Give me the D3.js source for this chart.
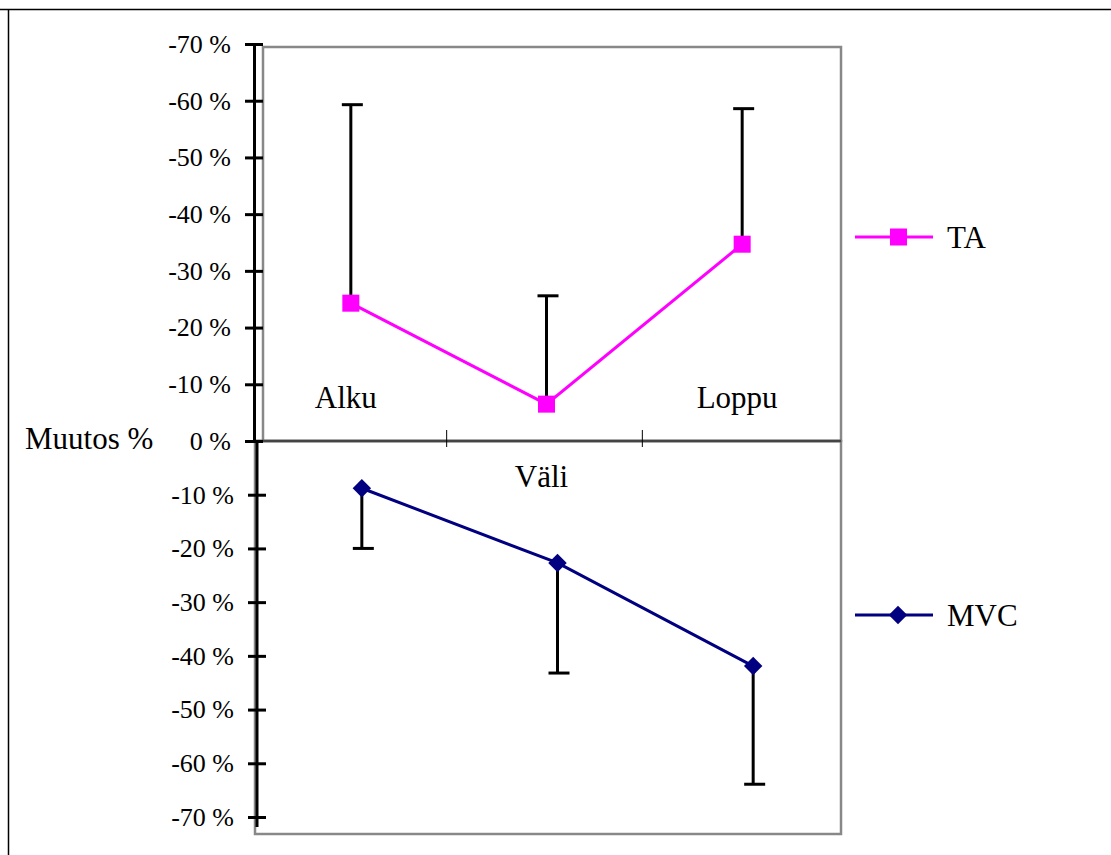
<!DOCTYPE html>
<html>
<head>
<meta charset="utf-8">
<script src="https://cdn.jsdelivr.net/npm/d3@7"></script>
<style>
  body { margin: 0; background: #fff; font-family: "Liberation Serif", "Times New Roman", serif; }
  svg text { font-family: "Liberation Serif", "Times New Roman", serif; fill: #000; }
</style>
</head>
<body>
<div id="chart"></div>
<script>
// data
var categories = ["Alku", "Väli", "Loppu"]
var taMean = [-24.3, -6.5, -34.7]
var taSd = [35.0, 19.1, 23.9]
var mvcMean = [-8.8, -22.7, -41.9]
var mvcSd = [11.2, 20.5, 22.0]
var yTicks = [0, -10, -20, -30, -40, -50, -60, -70]

var W = 1111, H = 855
var serif = "'Liberation Serif', 'Times New Roman', serif"
var svg = d3.select("#chart").append("svg").attr("width", W).attr("height", H)
  .attr("font-family", serif)

// outer frame (only top + left visible)
svg.append("line").attr("x1", 0).attr("x2", W).attr("y1", 9.5).attr("y2", 9.5).attr("stroke", "#000").attr("stroke-width", 1.5)
svg.append("line").attr("x1", 8.5).attr("x2", 8.5).attr("y1", 9).attr("y2", H).attr("stroke", "#000").attr("stroke-width", 1.5)

var left = 255, right = 841, zeroY = 441

// scales
var xTop = d3.scaleBand().domain(categories).range([253, 840])
var xBot = d3.scaleBand().domain(categories).range([264, 851])
var yTop = d3.scaleLinear().domain([0, -70]).range([zeroY, 44])
var yBot = d3.scaleLinear().domain([0, -70]).range([zeroY, 817])

// plot frames
svg.append("rect").attr("x", left + 8).attr("y", 47).attr("width", right - left - 8).attr("height", zeroY - 47)
  .attr("fill", "none").attr("stroke", "#888").attr("stroke-width", 2.5)
svg.append("rect").attr("x", left).attr("y", zeroY).attr("width", right - left).attr("height", 834 - zeroY)
  .attr("fill", "none").attr("stroke", "#888").attr("stroke-width", 2.5)
svg.append("line").attr("x1", left).attr("x2", right).attr("y1", zeroY).attr("y2", zeroY)
  .attr("stroke", "#444").attr("stroke-width", 2.5)

// category ticks on zero line
var bounds = [xTop("Väli"), xTop("Loppu")]
svg.selectAll("line.xtick").data(bounds).enter().append("line")
  .attr("x1", d => d - 2).attr("x2", d => d - 2).attr("y1", 430).attr("y2", 447)
  .attr("stroke", "#000").attr("stroke-width", 1)

// y axes
function drawAxis(scale, x) {
  var g = svg.append("g").attr("transform", "translate(" + x + ",0)")
    .call(d3.axisLeft(scale).tickValues(yTicks).tickSize(9).tickPadding(14).tickSizeOuter(0)
      .tickFormat(d => d + " %"))
  g.attr("font-family", serif).attr("font-size", 26)
  g.select(".domain").attr("stroke", "#000").attr("stroke-width", 3)
  g.selectAll(".tick line").attr("x1", 9).attr("x2", -9).attr("stroke", "#000").attr("stroke-width", 3)
  g.selectAll(".tick text").attr("fill", "#000")
  return g
}
var axTop = drawAxis(yTop, 254)
var axBot = drawAxis(yBot, 257)
axBot.selectAll(".tick").filter(d => d === 0).remove()
axBot.select(".domain").attr("d", "M0," + zeroY + "V827")

// y label
svg.append("text").attr("x", 25).attr("y", 449).attr("font-size", 31).text("Muutos %")

// category labels
var catY = [408, 487, 408]
svg.selectAll("text.cat").data(categories).enter().append("text")
  .attr("x", (d, i) => xTop(d) + xTop.bandwidth() / 2 - 5)
  .attr("y", (d, i) => catY[i])
  .attr("text-anchor", "middle").attr("font-size", 31).text(d => d)

// error bars
function errorBars(x, y, means, sds) {
  var g = svg.append("g")
  categories.forEach(function(c, i) {
    var cx = x(c) + x.bandwidth() / 2
    var end = means[i] - sds[i]
    g.append("line").attr("x1", cx).attr("x2", cx).attr("y1", y(means[i])).attr("y2", y(end))
      .attr("stroke", "#000").attr("stroke-width", 3)
    g.append("line").attr("x1", cx - 9).attr("x2", cx + 12).attr("y1", y(end)).attr("y2", y(end))
      .attr("stroke", "#000").attr("stroke-width", 3)
  })
}
errorBars(xTop, yTop, taMean, taSd)
errorBars(xBot, yBot, mvcMean, mvcSd)

// lines
var taColor = "#ff00ff", mvcColor = "#000080"
var taLine = d3.line().x((d, i) => xTop(categories[i]) + xTop.bandwidth() / 2).y(d => yTop(d))
var mvcLine = d3.line().x((d, i) => xBot(categories[i]) + xBot.bandwidth() / 2).y(d => yBot(d))
svg.append("path").attr("d", taLine(taMean)).attr("fill", "none").attr("stroke", taColor).attr("stroke-width", 3)
svg.append("path").attr("d", mvcLine(mvcMean)).attr("fill", "none").attr("stroke", mvcColor).attr("stroke-width", 3)

// markers
svg.selectAll("rect.ta").data(taMean).enter().append("rect")
  .attr("x", (d, i) => xTop(categories[i]) + xTop.bandwidth() / 2 - 8.5)
  .attr("y", d => yTop(d) - 8.5).attr("width", 17).attr("height", 17).attr("fill", taColor)
var diamond = d3.symbol().type(d3.symbolSquare).size(170)
svg.selectAll("path.mvc").data(mvcMean).enter().append("path")
  .attr("d", diamond)
  .attr("transform", (d, i) => "translate(" + (xBot(categories[i]) + xBot.bandwidth() / 2) + "," + yBot(d) + ") rotate(45)")
  .attr("fill", mvcColor)

// legend
var legend = [{name: "TA", color: taColor, y: 237, shape: "square"}, {name: "MVC", color: mvcColor, y: 615, shape: "diamond"}]
legend.forEach(function(l) {
  svg.append("line").attr("x1", 855).attr("x2", 933).attr("y1", l.y).attr("y2", l.y).attr("stroke", l.color).attr("stroke-width", 3)
  if (l.shape == "square") {
    svg.append("rect").attr("x", 890).attr("y", l.y - 8.5).attr("width", 17).attr("height", 17).attr("fill", l.color)
  } else {
    svg.append("path").attr("d", diamond).attr("transform", "translate(898," + l.y + ") rotate(45)").attr("fill", l.color)
  }
  svg.append("text").attr("x", 947).attr("y", l.y + 11).attr("font-size", 31).text(l.name)
})
</script>
</body>
</html>
